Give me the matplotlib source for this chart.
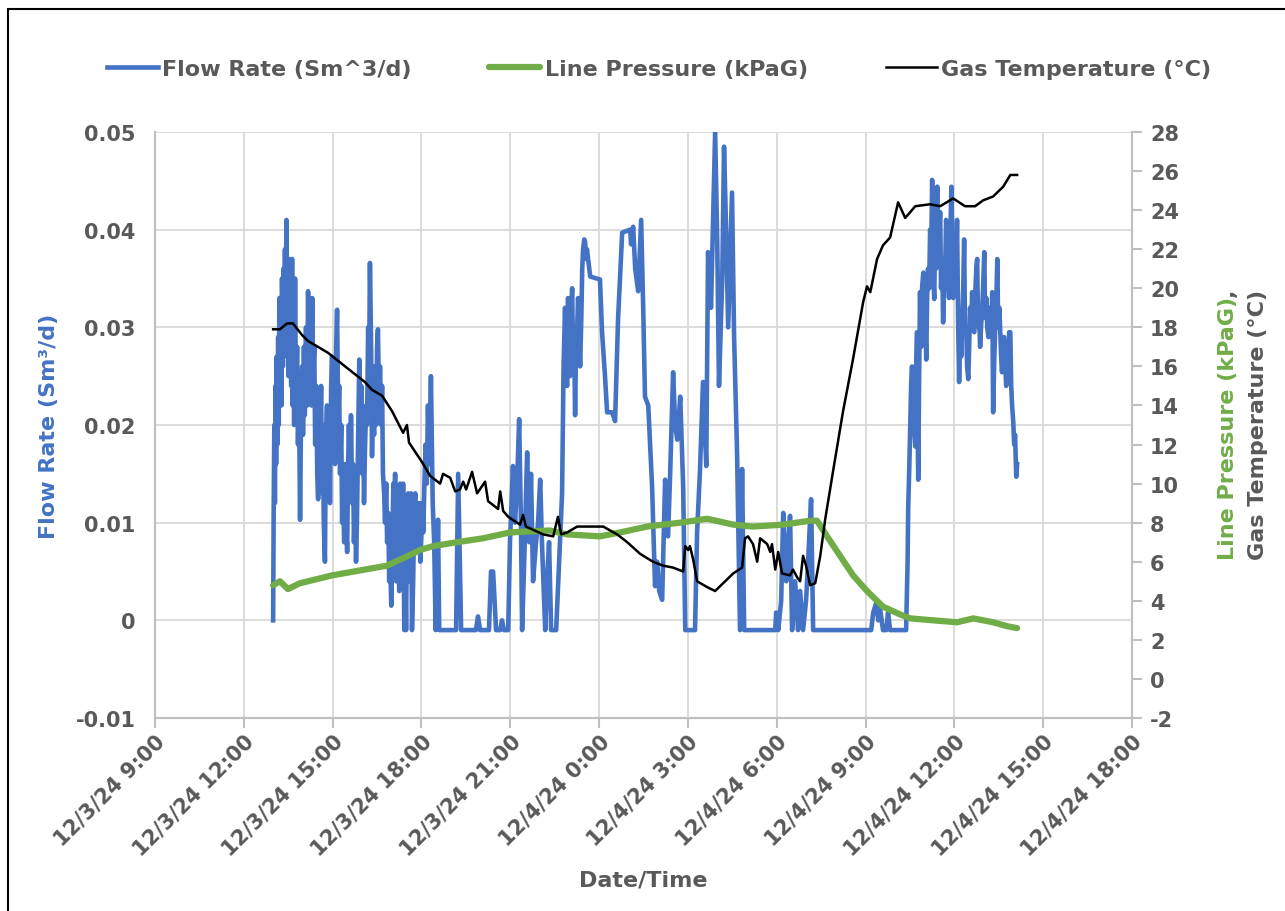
import numpy as np
import pandas as pd
import matplotlib
matplotlib.use('Agg')
import matplotlib.pyplot as plt
import matplotlib.dates as mdates
from matplotlib.patches import Rectangle
from matplotlib.ticker import FuncFormatter, MultipleLocator

# (hours after 12/3/24 00:00, flow rate Sm3/d)
flow_points = [
    (12.99, 0.000), (13.01, 0.012), (13.03, 0.020), (13.05, 0.012), (13.07, 0.024), (13.09, 0.016),
    (13.11, 0.027), (13.13, 0.018), (13.16, 0.029), (13.18, 0.020), (13.20, 0.033), (13.22, 0.024),
    (13.25, 0.030), (13.27, 0.022), (13.29, 0.035), (13.32, 0.026), (13.34, 0.036), (13.36, 0.027),
    (13.39, 0.038), (13.41, 0.030), (13.44, 0.041), (13.46, 0.028), (13.49, 0.036), (13.51, 0.025),
    (13.53, 0.037), (13.56, 0.027), (13.58, 0.034), (13.60, 0.024), (13.63, 0.037), (13.65, 0.022),
    (13.68, 0.030), (13.70, 0.020), (13.73, 0.035), (13.76, 0.023), (13.80, 0.028), (13.83, 0.018),
    (13.86, 0.024), (13.90, 0.0103), (13.93, 0.020), (13.97, 0.026), (14.00, 0.019), (14.03, 0.028),
    (14.06, 0.021), (14.10, 0.030), (14.14, 0.022), (14.17, 0.0337), (14.21, 0.024), (14.24, 0.030),
    (14.28, 0.022), (14.31, 0.033), (14.34, 0.025), (14.38, 0.028), (14.41, 0.018), (14.45, 0.024),
    (14.48, 0.015), (14.51, 0.0124), (14.54, 0.022), (14.57, 0.017), (14.61, 0.024), (14.64, 0.013),
    (14.67, 0.020), (14.70, 0.010), (14.74, 0.006), (14.77, 0.018), (14.81, 0.022), (14.84, 0.014),
    (14.88, 0.020), (14.91, 0.012), (14.95, 0.024), (14.98, 0.027), (15.02, 0.018), (15.05, 0.023),
    (15.08, 0.016), (15.12, 0.028), (15.15, 0.0318), (15.19, 0.020), (15.22, 0.024), (15.25, 0.015),
    (15.29, 0.020), (15.32, 0.010), (15.35, 0.014), (15.39, 0.008), (15.42, 0.016), (15.46, 0.010),
    (15.49, 0.007), (15.52, 0.015), (15.55, 0.020), (15.59, 0.013), (15.62, 0.021), (15.66, 0.012),
    (15.69, 0.016), (15.72, 0.008), (15.76, 0.012), (15.79, 0.006), (15.82, 0.010), (15.86, 0.018),
    (15.90, 0.0267), (15.93, 0.020), (15.97, 0.024), (16.00, 0.015), (16.03, 0.020), (16.06, 0.012),
    (16.09, 0.0172), (16.13, 0.022), (16.16, 0.020), (16.20, 0.030), (16.23, 0.025), (16.26, 0.0366),
    (16.30, 0.028), (16.33, 0.0168), (16.36, 0.022), (16.40, 0.019), (16.43, 0.026), (16.47, 0.020),
    (16.50, 0.028), (16.53, 0.0298), (16.57, 0.022), (16.60, 0.026), (16.64, 0.020), (16.67, 0.024),
    (16.70, 0.015), (16.74, 0.013), (16.77, 0.010), (16.81, 0.014), (16.84, 0.008), (16.88, 0.011),
    (16.91, 0.004), (16.94, 0.007), (16.98, 0.0015), (17.01, 0.006), (17.05, 0.014), (17.08, 0.008),
    (17.11, 0.015), (17.15, 0.004), (17.18, 0.013), (17.21, 0.008), (17.25, 0.003), (17.28, 0.014),
    (17.32, 0.010), (17.35, 0.006), (17.38, 0.014), (17.42, -0.001), (17.45, 0.006), (17.48, -0.001),
    (17.51, 0.009), (17.55, 0.013), (17.58, 0.004), (17.62, 0.008), (17.65, 0.013), (17.68, -0.001),
    (17.72, 0.004), (17.75, 0.010), (17.79, 0.013), (17.82, 0.007), (17.86, 0.012), (17.89, 0.008),
    (17.93, 0.012), (17.96, 0.006), (17.99, 0.008), (18.03, 0.012), (18.06, 0.009), (18.10, 0.014),
    (18.14, 0.018), (18.18, 0.014), (18.22, 0.022), (18.26, 0.016), (18.32, 0.025), (18.38, 0.012),
    (18.43, 0.008), (18.48, -0.001), (18.53, 0.004), (18.56, 0.0103), (18.60, -0.001),
    (19.17, -0.001), (19.24, 0.015), (19.34, -0.001), (19.84, -0.001), (19.91, 0.0004), (19.98, -0.001),
    (20.28, -0.001), (20.35, 0.005), (20.42, 0.005), (20.52, -0.001), (20.66, -0.001), (20.72, 0.000),
    (20.79, -0.001), (20.93, -0.001), (20.99, 0.008), (21.09, 0.0158), (21.16, 0.010), (21.23, 0.014),
    (21.30, 0.0206), (21.36, 0.010), (21.40, -0.001), (21.47, 0.006), (21.57, 0.0172), (21.64, 0.008),
    (21.70, 0.015), (21.77, 0.004), (21.87, 0.008), (21.94, 0.010), (22.01, 0.0144), (22.07, 0.008),
    (22.18, -0.001), (22.24, 0.004), (22.31, 0.008), (22.38, -0.001), (22.55, -0.001), (22.65, 0.006),
    (22.75, 0.013), (22.80, 0.026), (22.85, 0.032), (22.88, 0.026), (22.92, 0.024), (22.95, 0.033),
    (22.99, 0.030), (23.02, 0.025), (23.05, 0.031), (23.09, 0.034), (23.12, 0.027), (23.16, 0.028),
    (23.19, 0.021), (23.22, 0.028), (23.26, 0.030), (23.29, 0.033), (23.32, 0.029), (23.36, 0.026),
    (23.40, 0.031), (23.43, 0.036), (23.46, 0.038), (23.50, 0.039), (23.53, 0.0387), (23.56, 0.037),
    (23.59, 0.038), (23.70, 0.0352),
    (24.03, 0.0349), (24.10, 0.0295), (24.20, 0.025), (24.27, 0.0213), (24.44, 0.0213), (24.54, 0.0204),
    (24.64, 0.0308), (24.78, 0.0397), (25.05, 0.040), (25.08, 0.0385), (25.15, 0.0403), (25.22, 0.036),
    (25.32, 0.0337), (25.42, 0.041), (25.49, 0.032), (25.55, 0.0229), (25.66, 0.022), (25.79, 0.0137),
    (25.89, 0.0035), (25.96, 0.006), (26.03, 0.003), (26.13, 0.0021), (26.23, 0.0144), (26.33, 0.0086),
    (26.40, 0.015), (26.50, 0.0254), (26.57, 0.020), (26.64, 0.0185), (26.74, 0.0229), (26.84, 0.0137),
    (26.91, -0.001), (27.24, -0.001), (27.31, 0.009), (27.41, 0.0155), (27.51, 0.0244), (27.62, 0.0158),
    (27.68, 0.0377), (27.78, 0.032), (27.92, 0.050), (27.99, 0.039), (28.05, 0.024), (28.16, 0.035),
    (28.22, 0.0485), (28.29, 0.040), (28.36, 0.030), (28.49, 0.0438), (28.56, 0.029), (28.66, 0.0172),
    (28.76, -0.001), (28.83, 0.0155), (28.90, -0.001), (29.95, -0.001), (29.98, 0.0008), (30.05, -0.001),
    (30.15, 0.002), (30.22, 0.011), (30.32, 0.004), (30.39, 0.008), (30.45, 0.0107), (30.52, -0.001),
    (30.62, 0.004), (30.72, -0.001), (30.79, 0.003), (30.89, -0.001), (30.99, 0.002), (31.06, 0.006),
    (31.16, 0.0124), (31.23, -0.001), (33.19, -0.001), (33.26, 0.0008), (33.36, 0.0018), (33.43, 0.000),
    (33.49, 0.0012), (33.59, -0.001), (33.70, -0.001), (33.76, 0.0008), (33.83, -0.001),
    (34.37, -0.001), (34.42, 0.006), (34.44, 0.0114), (34.48, 0.016), (34.51, 0.0199), (34.54, 0.024),
    (34.57, 0.026), (34.60, 0.021), (34.64, 0.020), (34.68, 0.0178), (34.71, 0.026), (34.74, 0.0295),
    (34.76, 0.020), (34.78, 0.0144), (34.81, 0.025), (34.84, 0.0336), (34.88, 0.028), (34.91, 0.034),
    (34.95, 0.0356), (34.98, 0.030), (35.01, 0.032), (35.05, 0.0267), (35.08, 0.033), (35.11, 0.036),
    (35.15, 0.034), (35.18, 0.040), (35.22, 0.038), (35.25, 0.0451), (35.28, 0.036), (35.32, 0.0329),
    (35.35, 0.040), (35.38, 0.036), (35.42, 0.0444), (35.45, 0.037), (35.49, 0.040), (35.52, 0.0418),
    (35.55, 0.034), (35.59, 0.037), (35.62, 0.0305), (35.65, 0.034), (35.69, 0.036), (35.72, 0.041),
    (35.76, 0.0397), (35.79, 0.035), (35.82, 0.033), (35.86, 0.039), (35.90, 0.0444), (35.93, 0.038),
    (35.96, 0.033), (35.99, 0.0336), (36.03, 0.038), (36.06, 0.036), (36.09, 0.041), (36.13, 0.030),
    (36.16, 0.0244), (36.20, 0.030), (36.23, 0.027), (36.26, 0.030), (36.30, 0.034), (36.33, 0.039),
    (36.36, 0.030), (36.40, 0.030), (36.43, 0.026), (36.47, 0.0247), (36.50, 0.028), (36.53, 0.032),
    (36.57, 0.030), (36.60, 0.0336), (36.64, 0.030), (36.67, 0.0295), (36.70, 0.033), (36.74, 0.036),
    (36.77, 0.037), (36.80, 0.030), (36.84, 0.031), (36.87, 0.028), (36.90, 0.030), (36.94, 0.032),
    (36.97, 0.034), (37.01, 0.0377), (37.04, 0.031), (37.08, 0.033), (37.11, 0.030), (37.15, 0.029),
    (37.18, 0.031), (37.21, 0.032), (37.25, 0.030), (37.28, 0.0336), (37.31, 0.0213), (37.35, 0.027),
    (37.38, 0.030), (37.42, 0.033), (37.45, 0.037), (37.48, 0.030), (37.52, 0.032), (37.55, 0.0295),
    (37.58, 0.027), (37.61, 0.0254), (37.65, 0.029), (37.68, 0.029), (37.72, 0.026), (37.75, 0.024),
    (37.78, 0.028), (37.82, 0.027), (37.85, 0.0295), (37.89, 0.0295), (37.92, 0.024), (37.95, 0.022),
    (37.99, 0.0203), (38.02, 0.018), (38.05, 0.019), (38.09, 0.0147), (38.12, 0.016),
]

temp_hours = [
    12.99, 13.22, 13.46, 13.66, 13.97, 14.17, 14.84, 15.42, 16.09, 16.33, 16.67, 17.01, 17.38,
    17.51, 17.58, 18.02, 18.29, 18.63, 18.73, 18.97, 19.14, 19.30, 19.41, 19.51, 19.71, 19.88,
    20.15, 20.25, 20.59, 20.66, 20.76, 20.93, 21.33, 21.43, 21.53, 22.11, 22.45, 22.61, 22.72,
    22.92, 23.26, 23.70, 24.14, 24.61, 24.95, 25.39, 25.82, 26.16, 26.50, 26.84, 26.91, 27.01,
    27.07, 27.18, 27.31, 27.65, 27.92, 28.19, 28.53, 28.83, 28.93, 29.03, 29.20, 29.34, 29.44,
    29.68, 29.78, 29.84, 29.95, 30.05, 30.18, 30.45, 30.55, 30.69, 30.79, 30.89, 30.99, 31.13,
    31.30, 31.47, 31.64, 31.91, 32.24, 32.58, 32.92, 33.05, 33.16, 33.39, 33.59, 33.83, 34.10,
    34.34, 34.68, 35.18, 35.52, 35.96, 36.36, 36.70, 36.97, 37.31, 37.65, 37.89, 38.12,
]
gas_temp = [
    17.9, 17.9, 18.2, 18.2, 17.6, 17.3, 16.7, 16.0, 15.2, 14.8, 14.5, 13.7, 12.6,
    13.0, 12.1, 11.1, 10.4, 10.0, 10.5, 10.3, 9.6, 9.7, 10.1, 9.7, 10.6, 9.5,
    10.1, 9.1, 8.7, 9.6, 8.6, 8.3, 7.9, 8.4, 7.8, 7.4, 7.3, 8.3, 7.4,
    7.5, 7.8, 7.8, 7.8, 7.4, 7.0, 6.4, 6.0, 5.8, 5.7, 5.5, 6.8, 6.6,
    6.8, 6.1, 5.0, 4.7, 4.5, 4.9, 5.4, 5.7, 7.2, 7.3, 6.9, 6.0, 7.2,
    6.9, 6.5, 6.9, 5.6, 6.5, 5.4, 5.3, 5.6, 5.2, 5.0, 6.3, 5.8, 4.8,
    4.9, 6.3, 8.2, 10.7, 13.7, 16.4, 19.3, 20.1, 19.8, 21.5, 22.2, 22.6, 24.4,
    23.6, 24.2, 24.3, 24.2, 24.6, 24.2, 24.2, 24.5, 24.7, 25.2, 25.8, 25.8,
]

pressure_hours = [
    12.99, 13.22, 13.49, 13.90, 14.17, 14.98, 16.09, 16.84, 17.55, 17.95, 18.39, 19.20, 20.08,
    20.99, 22.34, 22.92, 24.03, 24.71, 25.62, 26.74, 27.65, 28.53, 29.20, 30.22, 31.13, 31.36,
    31.70, 32.14, 32.58, 33.05, 33.59, 34.17, 34.51, 35.28, 36.09, 36.64, 37.31, 37.78, 38.12,
]
line_pressure = [
    4.8, 5.0, 4.6, 4.9, 5.0, 5.3, 5.6, 5.8, 6.3, 6.6, 6.8, 7.0, 7.2,
    7.5, 7.6, 7.4, 7.3, 7.5, 7.8, 8.0, 8.2, 7.9, 7.8, 7.9, 8.1, 8.1,
    7.3, 6.3, 5.3, 4.5, 3.7, 3.3, 3.1, 3.0, 2.9, 3.1, 2.9, 2.7, 2.6,
]

BLUE = '#4472C4'
GREEN = '#70AD47'
GRAY = '#595959'
GRID = '#D9D9D9'
SPINE = '#BFBFBF'


def to_time(hours):
    return pd.Timestamp('2024-12-03') + pd.to_timedelta(hours, unit='h')


def fmt_date(x, pos=None):
    d = mdates.num2date(x)
    return '{0}/{1}/{2} {3}:{4:02d}'.format(d.month, d.day, d.year % 100, d.hour, d.minute)


def fmt_flow(v, pos=None):
    if abs(v) < 1e-9:
        return '0'
    return '{0:g}'.format(round(v, 3))


def main():
    plt.rcParams['font.family'] = 'DejaVu Sans'
    plt.rcParams['font.weight'] = 'bold'
    plt.rcParams['axes.labelweight'] = 'bold'
    plt.rcParams['axes.unicode_minus'] = False

    flow_hours = [p[0] for p in flow_points]
    flow_rate = [p[1] for p in flow_points]

    fig = plt.figure(figsize=(12.85, 9.12), dpi=100)
    ax = fig.add_axes([155 / 1285, 1 - 719 / 912, (1132 - 155) / 1285, (719 - 133) / 912])
    ax2 = ax.twinx()

    l1, = ax.plot(to_time(flow_hours), flow_rate, color=BLUE, lw=3.3, solid_joinstyle='round',
                  label='Flow Rate (Sm^3/d)')
    l2, = ax2.plot(to_time(pressure_hours), line_pressure, color=GREEN, lw=4.5,
                   solid_capstyle='round', label='Line Pressure (kPaG)')
    l3, = ax2.plot(to_time(temp_hours), gas_temp, color='black', lw=1.8,
                   label='Gas Temperature (°C)')

    ax.set_xlim(to_time(9), to_time(42))
    ax.set_ylim(-0.01, 0.05)
    ax2.set_ylim(-2, 28)
    ax.yaxis.set_major_locator(MultipleLocator(0.01))
    ax.yaxis.set_major_formatter(FuncFormatter(fmt_flow))
    ax2.yaxis.set_major_locator(MultipleLocator(2))
    ax.xaxis.set_major_locator(mdates.HourLocator(byhour=range(0, 24, 3)))
    ax.xaxis.set_major_formatter(FuncFormatter(fmt_date))

    ax.grid(True, color=GRID, lw=1.3)
    ax.set_axisbelow(True)

    for a in (ax, ax2):
        a.spines['top'].set_visible(False)
        for s in ('left', 'right', 'bottom'):
            a.spines[s].set_color(SPINE)
            a.spines[s].set_linewidth(1.5)
    ax.tick_params(axis='y', length=0, labelsize=15, labelcolor=GRAY, pad=14)
    ax.tick_params(axis='x', length=7, width=1.5, color=SPINE, labelsize=15, labelcolor=GRAY, pad=2)
    ax2.tick_params(axis='y', length=7, width=1.5, color=SPINE, labelsize=15, labelcolor=GRAY, pad=6)
    for lbl in ax.get_xticklabels():
        lbl.set_rotation(45)
        lbl.set_ha('right')
        lbl.set_rotation_mode('anchor')

    ax.set_xlabel('Date/Time', fontsize=16, color=GRAY, labelpad=8)
    ax.set_ylabel('Flow Rate (Sm³/d)', fontsize=16, color=BLUE, labelpad=12)

    # two-line right axis label: green first line with gray comma, gray second line
    t1 = fig.text(1228 / 1285, 1 - 560 / 912, 'Line Pressure (kPaG)', rotation=90,
                  color=GREEN, fontsize=16, ha='center', va='bottom')
    fig.text(1258 / 1285, 1 - 560 / 912, 'Gas Temperature (°C)', rotation=90,
             color=GRAY, fontsize=16, ha='center', va='bottom')
    fig.canvas.draw()
    bb = t1.get_window_extent().transformed(fig.transFigure.inverted())
    fig.text(1228 / 1285, bb.y1, ',', rotation=90, color=GRAY, fontsize=16,
             ha='center', va='bottom')

    fig.legend(handles=[l1, l2, l3], loc='center', bbox_to_anchor=(659 / 1285, 1 - 70 / 912),
               ncol=3, frameon=False, fontsize=16, labelcolor=GRAY, handlelength=2.3,
               handletextpad=0.2, columnspacing=3.5)

    fig.patches.append(Rectangle((8 / 1285, -0.05), 1.2, 1 - 10 / 912 + 0.05,
                                 transform=fig.transFigure, fill=False, edgecolor='black',
                                 lw=1.5, clip_on=False))

    fig.savefig('out.png', dpi=100)


if __name__ == '__main__':
    main()
